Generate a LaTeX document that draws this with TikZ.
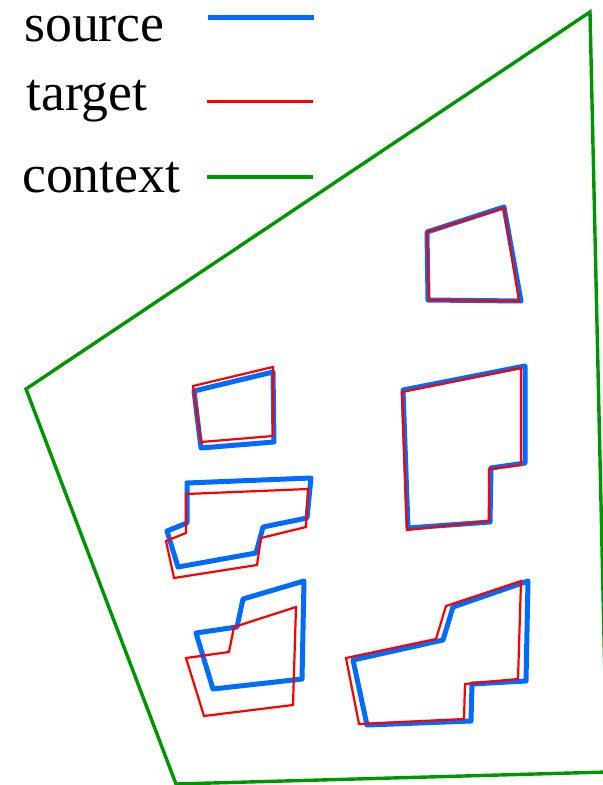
\documentclass[tikz,border=0pt]{standalone}
\usepackage{fontspec}
\setmainfont{Liberation Serif}
\definecolor{srcblue}{RGB}{0,108,255}
\definecolor{tgtred}{RGB}{255,0,0}
\definecolor{ctxgreen}{RGB}{0,150,0}

\begin{document}
\begin{tikzpicture}[x=1bp, y=-1bp,
    source/.style={draw=srcblue, line width=5bp, line join=round, line cap=round},
    target/.style={draw=tgtred, line width=2.2bp},
    context/.style={draw=ctxgreen, line width=3.4bp},
    legend/.style={anchor=base west, inner sep=0pt, font=\fontsize{54}{60}\selectfont}]
    \useasboundingbox (0,0) rectangle (603,785);

    \node[legend] (srclabel) at (24,42) {source};
    \node[legend] (tgtlabel) at (26,110) {target};
    \node[legend] (ctxlabel) at (22,192) {context};
    \coordinate (srcA) at (208,17.5); \coordinate (srcB) at (314,17.5);
    \coordinate (tgtA) at (207,101.5); \coordinate (tgtB) at (313,101.5);
    \coordinate (ctxA) at (207,177); \coordinate (ctxB) at (313,177);
    \draw[source, line cap=butt] (srcA) -- (srcB);
    \draw[target] (tgtA) -- (tgtB);
    \draw[context] (ctxA) -- (ctxB);

    \begin{scope}
        \clip (0,0) rectangle (603,785);
        \draw[context] (590,12) -- (26,389) -- (176,784) -- (607,772) -- cycle;
    \end{scope}

    \draw[source] (427,232) -- (504,207) -- (521,301) -- (428,300) -- cycle;
    \draw[source] (403,390) -- (525,366) -- (525,463) -- (491,468) -- (490,522) -- (408,528) -- cycle;
    \draw[source] (194,391) -- (273,372) -- (274,442) -- (201,448) -- cycle;
    \draw[source] (187,483) -- (311,478) -- (307,518) -- (263,527) -- (256,553) -- (178,567) -- (167,531) -- (187,523) -- cycle;
    \draw[source] (196,633) -- (237,627) -- (243,599) -- (304,581) -- (302,679) -- (213,689) -- cycle;
    \draw[source] (353,660) -- (443,640) -- (453,607) -- (528,581) -- (526,681) -- (472,684) -- (471,721) -- (367,725) -- cycle;

    \draw[target] (427,232) -- (504,208) -- (519,301) -- (429,300) -- cycle;
    \draw[target] (402,392) -- (521,368) -- (521,465) -- (489,469) -- (489,521) -- (407,530) -- cycle;
    \draw[target] (193,386) -- (273,367) -- (273,436) -- (201,442) -- cycle;
    \draw[target] (186,494) -- (308,489) -- (306,527) -- (261,538) -- (257,565) -- (174,578) -- (166,541) -- (186,533) -- cycle;
    \draw[target] (186,658) -- (229,652) -- (234,627) -- (296,607) -- (293,705) -- (204,716) -- cycle;
    \draw[target] (346,658) -- (436,639) -- (446,606) -- (521,581) -- (518,679) -- (465,684) -- (464,719) -- (359,724) -- cycle;
\end{tikzpicture}
\end{document}
